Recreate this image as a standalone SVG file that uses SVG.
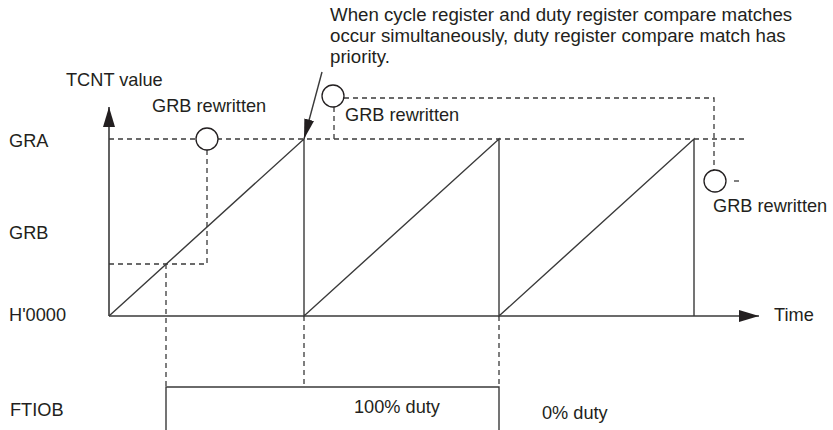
<svg xmlns="http://www.w3.org/2000/svg" width="833" height="430" viewBox="0 0 833 430">
<style>
text{font-family:"Liberation Sans",Arial,sans-serif;font-size:18.2px;fill:#231f20}
.top{font-size:18.7px}
.ln{stroke:#3a3a3a;stroke-width:1.4;fill:none}
.ax{stroke:#3a3a3a;stroke-width:1.6;fill:none}
.ds{stroke:#3a3a3a;stroke-width:1.3;fill:none;stroke-dasharray:5 4}
.cc{stroke:#231f20;stroke-width:1.3;fill:#fff}
</style>
<defs>
<marker id="ah" viewBox="0 0 20 12" refX="20" refY="6" markerWidth="20" markerHeight="12" markerUnits="userSpaceOnUse" orient="auto">
<path d="M0,0 L20,6 L0,12 Z" fill="#231f20"/>
</marker>
<marker id="ah2" viewBox="0 0 20 10" refX="20" refY="5" markerWidth="20" markerHeight="10" markerUnits="userSpaceOnUse" orient="auto">
<path d="M0,0 L20,5 L0,10 Z" fill="#231f20"/>
</marker>
</defs>
<rect width="833" height="430" fill="#fff"/>
<g id="connectors">
<line class="ds" x1="109" y1="139" x2="748" y2="139"/>
<polyline class="ds" points="109,264 207,264 207,150"/>
<line class="ds" x1="166" y1="264" x2="166" y2="387"/>
<line class="ds" x1="304" y1="316" x2="304" y2="387"/>
<line class="ds" x1="499" y1="316" x2="499" y2="387"/>
<line class="ds" x1="334" y1="107" x2="334" y2="139"/>
<polyline class="ds" points="344,98 714,98 714,170"/>
<line class="ds" x1="734" y1="181" x2="741" y2="181"/>
<path class="ln" d="M109,316 L304,139 V316 L499,139 V316 L694,139 V316"/>
<path class="ln" d="M166,430 V387 H499 V430"/>
<line class="ax" x1="109" y1="316" x2="109" y2="107" marker-end="url(#ah)"/>
<line class="ax" x1="109" y1="316" x2="759" y2="316" marker-end="url(#ah)"/>
<line class="ln" x1="322" y1="72" x2="304" y2="139" marker-end="url(#ah2)"/>
</g>
<g id="circle1"><circle class="cc" cx="207" cy="139" r="11"/><text x="152" y="112">GRB rewritten</text></g>
<g id="circle2"><circle class="cc" cx="333" cy="96" r="11"/><text x="345" y="121">GRB rewritten</text></g>
<g id="circle3"><circle class="cc" cx="715" cy="181" r="11"/><text x="713" y="212">GRB rewritten</text></g>
<g id="note">
<text class="top" x="330" y="21">When cycle register and duty register compare matches</text>
<text class="top" x="330" y="42">occur simultaneously, duty register compare match has</text>
<text class="top" x="330" y="63">priority.</text>
</g>
<g id="labels">
<text x="66" y="86">TCNT value</text>
<text x="9" y="147">GRA</text>
<text x="9" y="239">GRB</text>
<text x="9" y="321">H'0000</text>
<text x="774" y="321">Time</text>
<text x="10" y="416">FTIOB</text>
<text x="354" y="413">100% duty</text>
<text x="542" y="419">0% duty</text>
</g>
</svg>
